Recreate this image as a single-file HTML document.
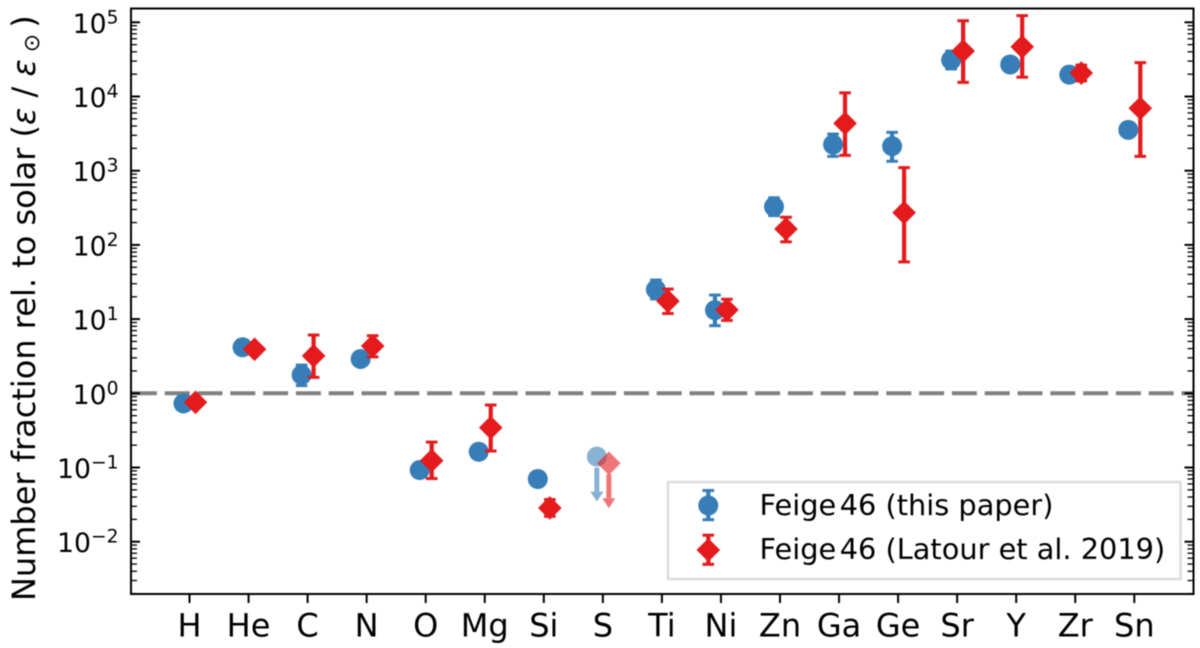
<!DOCTYPE html>
<html>
<head>
<meta charset="utf-8">
<style>
html,body{margin:0;padding:0;background:#fff;width:1200px;height:648px;overflow:hidden}
svg{display:block;filter:blur(0.4px)}
text{font-family:"DejaVu Sans","Liberation Sans",sans-serif;fill:#000}
</style>
</head>
<body>
<svg id="chart" xmlns="http://www.w3.org/2000/svg" width="1200" height="648" viewBox="0 0 1200 648">
<g id="grid-layer"></g>
<g id="marks-layer"></g>
<g id="axes-layer"></g>
<text transform="translate(35,601) rotate(-90)" font-size="32">Number fraction rel. to solar (<tspan font-style="italic">ε</tspan> / <tspan font-style="italic">ε</tspan><tspan font-size="22" dx="7" dy="4">⊙</tspan><tspan dy="-4" dx="6">)</tspan></text>
<g>
  <rect x="668" y="482" width="512.5" height="97" fill="#fff" stroke="#dcdcdc" stroke-width="2.5"/>
  <g id="legend-marks"></g>
  <text x="759.5" y="515" font-size="28.8">Feige<tspan dx="3.5">46 (this paper)</tspan></text>
  <text x="759.5" y="559" font-size="28.8">Feige<tspan dx="3.5">46 (Latour et al. 2019)</tspan></text>
</g>
</svg>
<script>
var elements = ["H","He","C","N","O","Mg","Si","S","Ti","Ni","Zn","Ga","Ge","Sr","Y","Zr","Sn"];
var blueValues = [0.73,4.17,1.77,2.9,0.0925,0.163,0.07,0.14,25,13.2,327,2250,2140,31000,27000,19700,3550];
var blueUpper = [null,null,2.4,null,0.105,null,null,null,33.6,21.1,432,3120,3290,41000,null,null,null];
var blueLower = [null,null,1.27,null,0.0745,null,null,null,18.7,8.15,248,1560,1340,23500,null,null,null];
var blueIsLimit = [0,0,0,0,0,0,0,1,0,0,0,0,0,0,0,0,0];
var redValues = [0.757,3.92,3.2,4.34,0.124,0.344,0.0285,0.114,17.5,13.3,164,4350,272,41000,46800,20700,6950];
var redUpper = [null,null,6.1,5.97,0.22,0.695,0.037,null,25.4,18.5,236,11200,1100,105000,123000,26500,28600];
var redLower = [null,null,1.64,3.1,0.071,0.167,0.022,null,11.9,9.6,110,1610,59,15500,18200,16200,1560];
var redIsLimit = [0,0,0,0,0,0,0,1,0,0,0,0,0,0,0,0,0];
var yTickExponents = [-2,-1,0,1,2,3,4,5];
var yTickLabels = ["\u22122","\u22121","0","1","2","3","4","5"];
var minorSubs = [2,3,4,5,6,7,8,9];
var referenceValue = 1;

var NS = "http://www.w3.org/2000/svg";
var plot = {left:131, right:1193.5, top:8.5, bottom:594};
var BLUE = "#377eb8", RED = "#e41a1c";

function xScale(i){ return 189.5 + 59.05 * i; }
function yScale(v){ return 393.3 - 74.2 * (Math.log(v) / Math.LN10); }

function make(tag, attrs, parent){
  var el = document.createElementNS(NS, tag);
  for (var k in attrs) el.setAttribute(k, attrs[k]);
  parent.appendChild(el);
  return el;
}
function line(x1,y1,x2,y2,stroke,w,parent,name){
  var el = make("line",{x1:x1,y1:y1,x2:x2,y2:y2,stroke:stroke,"stroke-width":w},parent);
  
  
  return el;
}
function circleMark(x,y,parent,name,opacity){
  var el = make("circle",{cx:x,cy:y,r:10,fill:BLUE,"fill-opacity":opacity},parent);
  
  
}
function diamondMark(x,y,parent,name,opacity){
  var d = 11.8;
  var el = make("polygon",{points:(x-d)+","+y+" "+x+","+(y-d)+" "+(x+d)+","+y+" "+x+","+(y+d),fill:RED,"fill-opacity":opacity},parent);
  
  
}
function errorBar(x,yTop,yBottom,color,parent,name){
  line(x,yTop,x,yBottom,color,4.2,parent,name+"-bar");
  line(x-5.8,yTop,x+5.8,yTop,color,3,parent,name+"-cap-top");
  line(x-5.8,yBottom,x+5.8,yBottom,color,3,parent,name+"-cap-bottom");
}
function limitArrow(x,y,color,opacity,parent,name){
  var len = 45;
  var g = make("g",{opacity:opacity},parent);
  
  
  line(x,y+11,x,y+len-10,color,5,g,name+"-shaft");
  var head = make("polygon",{points:(x-6.5)+","+(y+len-10)+" "+(x+6.5)+","+(y+len-10)+" "+x+","+(y+len)},g);
  head.setAttribute("fill",color);
  
  
}
function drawSeries(values,upper,lower,isLimit,offset,color,drawMarker,prefix,parent){
  values.forEach(function(v,i){
    var x = xScale(i) + offset;
    var key = prefix + "-" + elements[i].toLowerCase();
    if (upper[i] !== null) errorBar(x,yScale(upper[i]),yScale(lower[i]),color,parent,key+"-error");
    if (isLimit[i]) limitArrow(x,yScale(v),color,0.6,parent,key+"-upper-limit");
    drawMarker(x,yScale(v),parent,key+"-marker",isLimit[i] ? 0.6 : 1);
  });
}

var grid = document.getElementById("grid-layer");
var refLine = line(plot.left,yScale(referenceValue),plot.right,yScale(referenceValue),"#808080",4,grid,"solar-reference-line");
refLine.setAttribute("stroke-dasharray","25 7.8");
refLine.setAttribute("stroke-dashoffset","-0.9");

var marks = document.getElementById("marks-layer");
drawSeries(blueValues,blueUpper,blueLower,blueIsLimit,-6,BLUE,circleMark,"blue",marks);
drawSeries(redValues,redUpper,redLower,redIsLimit,6,RED,diamondMark,"red",marks);

var legendMarks = document.getElementById("legend-marks");
errorBar(708.3,490.5,519.7,BLUE,legendMarks,"legend-blue-error");
circleMark(708.3,505.5,legendMarks,"legend-blue-marker",1);
errorBar(708.3,535.2,564.3,RED,legendMarks,"legend-red-error");
diamondMark(708.3,550,legendMarks,"legend-red-marker",1);

var axes = document.getElementById("axes-layer");
yTickExponents.forEach(function(e,idx){
  var y = yScale(Math.pow(10,e));
  line(plot.left,y,plot.left+9,y,"#000",2,axes,"y-major-tick-left");
  line(plot.right,y,plot.right-9,y,"#000",2,axes,"y-major-tick-right");
  var label = make("text",{x:118.5,y:y+10.5,"text-anchor":"end","font-size":26.7},axes);
  
  
  var base = make("tspan",{},label);
  base.textContent = "10";
  var exp = make("tspan",{"font-size":18.7,dy:-9.5},label);
  exp.textContent = yTickLabels[idx];
});
[-3,-2,-1,0,1,2,3,4,5].forEach(function(e){
  minorSubs.forEach(function(s){
    var y = yScale(s*Math.pow(10,e));
    if (y < plot.top || y > plot.bottom) return;
    line(plot.left,y,plot.left+6,y,"#000",1.3,axes,"y-minor-tick-left");
    line(plot.right,y,plot.right-6,y,"#000",1.3,axes,"y-minor-tick-right");
  });
});
elements.forEach(function(name,i){
  var x = xScale(i);
  line(x,plot.bottom,x,plot.bottom+9,"#000",2,axes,"x-tick");
  var t = make("text",{x:x,y:636.5,"text-anchor":"middle","font-size":32},axes);
  
  
  t.textContent = name;
});
var frame = make("rect",{x:plot.left,y:plot.top,width:plot.right-plot.left,height:plot.bottom-plot.top,fill:"none",stroke:"#000","stroke-width":2},axes);


</script>
</body>
</html>
